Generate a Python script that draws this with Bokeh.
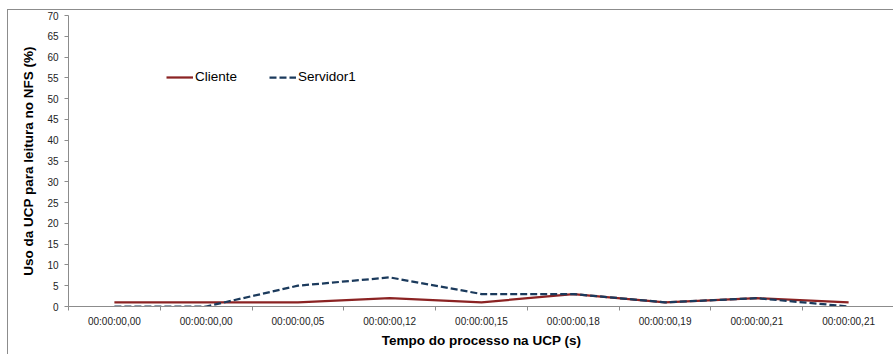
from bokeh.plotting import figure
from bokeh.models import FixedTicker, Legend, LegendItem, ColumnDataSource
from bokeh.embed import file_html
from bokeh.resources import INLINE

# Time stamps of the process on the CPU (x categories, some repeat)
tempos = ["00:00:00,00", "00:00:00,00", "00:00:00,05", "00:00:00,12", "00:00:00,15",
          "00:00:00,18", "00:00:00,19", "00:00:00,21", "00:00:00,21"]
# CPU usage (%) for NFS reads
cliente = [1, 1, 1, 2, 1, 3, 1, 2, 1]
servidor1 = [0, 0, 5, 7, 3, 3, 1, 2, 0]
y_ticks = list(range(0, 75, 5))

pos = list(range(len(tempos)))
src = ColumnDataSource(dict(x=pos, cliente=cliente, servidor1=servidor1))

FONT = "Liberation Sans"
GRAY = "#8c8c8c"

p = figure(width=886, height=345, output_backend="svg", toolbar_location=None,
           x_range=(-0.5, len(tempos) - 0.5), y_range=(0, 70),
           min_border_left=60, min_border_right=0, min_border_top=5, min_border_bottom=49,
           margin=(9, 0, 0, 7))
p.styles = {"border-top": "1px solid #8c8c8c", "border-left": "1px solid #8c8c8c"}
p.outline_line_color = None
p.xgrid.visible = False
p.ygrid.visible = False
p.background_fill_color = "white"
p.border_fill_color = "white"

r_cli = p.line("x", "cliente", source=src, line_color="#8B2323", line_width=2.25)
r_srv = p.line("x", "servidor1", source=src, line_color="#1B3A5C", line_width=2.25,
               line_dash="7 3")

# x axis: labels centered on each category, ticks on category boundaries
p.xaxis.ticker = FixedTicker(ticks=pos, minor_ticks=[i - 0.5 for i in range(len(tempos) + 1)])
p.xaxis.major_label_overrides = {i: t for i, t in enumerate(tempos)}
p.xaxis.major_tick_line_color = None
p.xaxis.minor_tick_line_color = GRAY
p.xaxis.minor_tick_in = 0
p.xaxis.minor_tick_out = 4
p.xaxis.axis_line_color = GRAY
p.xaxis.major_label_text_font = FONT
p.xaxis.major_label_text_font_size = "10px"
p.xaxis.major_label_text_color = "#222222"
p.xaxis.major_label_standoff = 3
p.xaxis.axis_label = "Tempo do processo na UCP (s)"
p.xaxis.axis_label_text_font = FONT
p.xaxis.axis_label_text_font_style = "bold"
p.xaxis.axis_label_text_font_size = "13.5px"
p.xaxis.axis_label_text_color = "#000000"
p.xaxis.axis_label_standoff = 3

p.yaxis.ticker = FixedTicker(ticks=y_ticks)
p.yaxis.minor_tick_line_color = None
p.yaxis.major_tick_line_color = GRAY
p.yaxis.major_tick_in = 0
p.yaxis.major_tick_out = 4
p.yaxis.axis_line_color = GRAY
p.yaxis.major_label_text_font = FONT
p.yaxis.major_label_text_font_size = "10px"
p.yaxis.major_label_text_color = "#222222"
p.yaxis.major_label_standoff = 6
p.yaxis.axis_label = "Uso da UCP para leitura no NFS (%)"
p.yaxis.axis_label_text_font = FONT
p.yaxis.axis_label_text_font_style = "bold"
p.yaxis.axis_label_text_font_size = "13.5px"
p.yaxis.axis_label_text_color = "#000000"
p.yaxis.axis_label_standoff = 8

legend = Legend(items=[LegendItem(label="Cliente", renderers=[r_cli]),
                       LegendItem(label="Servidor1", renderers=[r_srv])],
                orientation="horizontal", location=(98, 222),
                glyph_width=27, glyph_height=14, label_height=14,
                label_standoff=2, spacing=32, padding=0, margin=0,
                border_line_color=None, background_fill_alpha=0,
                label_text_font=FONT, label_text_font_size="13.5px",
                label_text_color="#000000")
p.add_layout(legend)

open("out.html", "w").write(file_html(p, INLINE))
